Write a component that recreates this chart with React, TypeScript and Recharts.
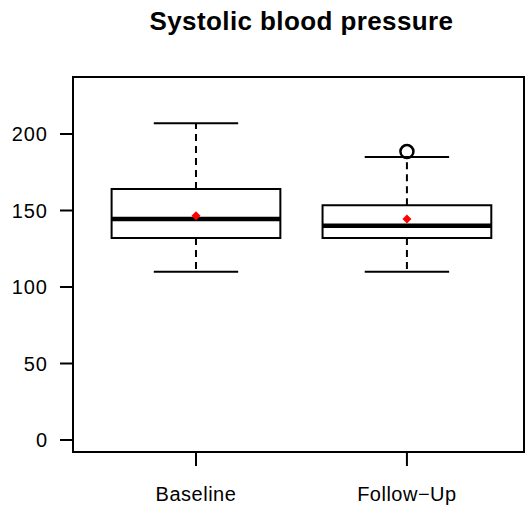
import React from 'react';
import {
  ComposedChart,
  XAxis,
  YAxis,
  Scatter,
  ReferenceArea,
  ReferenceLine,
} from 'recharts';

const categories = ['Baseline', 'Follow\u2212Up'];
const positions = [1, 2];
const lowerWhisker = [110, 110];
const q1 = [132, 132];
const median = [144.5, 140];
const q3 = [164, 153.5];
const upperWhisker = [207, 185];
const means = [146.5, 144.5];
const outlierGroups = [2];
const outlierValues = [188.5];
const yTicks = [0, 50, 100, 150, 200];

const xDomain: [number, number] = [0.417, 2.555];
const yDomain: [number, number] = [-7.84, 237.25];
const boxHalf = 0.4;
const capHalf = 0.2;

const meanData = positions.map((x, i) => ({ x, y: means[i] }));
const outlierData = outlierGroups.map((g, i) => ({ x: g, y: outlierValues[i] }));

const FONT = '"Liberation Sans", Arial, Helvetica, sans-serif';

const Diamond = (props: any) => {
  const { cx, cy } = props;
  const r = 4.5;
  return (
    <path
      d={`M${cx},${cy - r} L${cx + r},${cy} L${cx},${cy + r} L${cx - r},${cy} Z`}
      fill="#ff0000"
    />
  );
};

const OpenCircle = (props: any) => {
  const { cx, cy } = props;
  return <circle cx={cx} cy={cy} r={6.5} fill="none" stroke="#000" strokeWidth={2.5} />;
};

export default function App() {
  return (
    <div style={{ position: 'absolute', left: 0, top: 0, width: 529, height: 508, background: '#fff' }}>
      <div
        style={{
          position: 'absolute',
          left: 0,
          top: 8,
          width: 603,
          textAlign: 'center',
          fontFamily: FONT,
          fontWeight: 'bold',
          fontSize: 26,
          lineHeight: '26px',
          letterSpacing: '0.4px',
          color: '#000',
          whiteSpace: 'nowrap',
        }}
      >
        Systolic blood pressure
      </div>
      <ComposedChart
        width={529}
        height={508}
        margin={{ top: 77, right: 5, bottom: 0, left: 0 }}
        style={{ position: 'absolute', left: 0, top: 0 }}
      >
        <XAxis
          type="number"
          dataKey="x"
          domain={xDomain}
          allowDataOverflow
          ticks={positions}
          tickFormatter={(v: number) => categories[positions.indexOf(v)] ?? ''}
          height={56}
          axisLine={false}
          tickSize={14}
          tickMargin={21}
          tickLine={{ stroke: '#000', strokeWidth: 2 }}
          tick={{ fill: '#000', fontSize: 20, fontFamily: FONT, letterSpacing: 0.5 }}
        />
        <YAxis
          type="number"
          dataKey="y"
          domain={yDomain}
          allowDataOverflow
          ticks={yTicks}
          width={73}
          axisLine={false}
          tickSize={13}
          tickMargin={12}
          tickLine={{ stroke: '#000', strokeWidth: 2 }}
          tick={{ fill: '#000', fontSize: 20, fontFamily: FONT, letterSpacing: 1 }}
        />
        <ReferenceArea
          x1={xDomain[0]}
          x2={xDomain[1]}
          y1={yDomain[0]}
          y2={yDomain[1]}
          fill="none"
          stroke="#000"
          strokeWidth={2}
          fillOpacity={0}
          ifOverflow="visible"
        />
        {positions.map((p, i) => (
          <ReferenceArea
            key={`box-${i}`}
            x1={p - boxHalf}
            x2={p + boxHalf}
            y1={q1[i]}
            y2={q3[i]}
            fill="none"
            fillOpacity={0}
            stroke="#000"
            strokeWidth={2}
            ifOverflow="visible"
          />
        ))}
        {positions.map((p, i) => (
          <ReferenceLine
            key={`wu-${i}`}
            segment={[{ x: p, y: q3[i] }, { x: p, y: upperWhisker[i] }]}
            stroke="#000"
            strokeWidth={2}
            strokeDasharray="7 5"
            ifOverflow="visible"
          />
        ))}
        {positions.map((p, i) => (
          <ReferenceLine
            key={`wl-${i}`}
            segment={[{ x: p, y: q1[i] }, { x: p, y: lowerWhisker[i] }]}
            stroke="#000"
            strokeWidth={2}
            strokeDasharray="7 5"
            ifOverflow="visible"
          />
        ))}
        {positions.map((p, i) => (
          <ReferenceLine
            key={`cu-${i}`}
            segment={[{ x: p - capHalf, y: upperWhisker[i] }, { x: p + capHalf, y: upperWhisker[i] }]}
            stroke="#000"
            strokeWidth={2}
            ifOverflow="visible"
          />
        ))}
        {positions.map((p, i) => (
          <ReferenceLine
            key={`cl-${i}`}
            segment={[{ x: p - capHalf, y: lowerWhisker[i] }, { x: p + capHalf, y: lowerWhisker[i] }]}
            stroke="#000"
            strokeWidth={2}
            ifOverflow="visible"
          />
        ))}
        {positions.map((p, i) => (
          <ReferenceLine
            key={`med-${i}`}
            segment={[{ x: p - boxHalf, y: median[i] }, { x: p + boxHalf, y: median[i] }]}
            stroke="#000"
            strokeWidth={4.5}
            ifOverflow="visible"
          />
        ))}
        <Scatter data={outlierData} shape={OpenCircle} isAnimationActive={false} />
        <Scatter data={meanData} shape={Diamond} isAnimationActive={false} />
      </ComposedChart>
    </div>
  );
}
